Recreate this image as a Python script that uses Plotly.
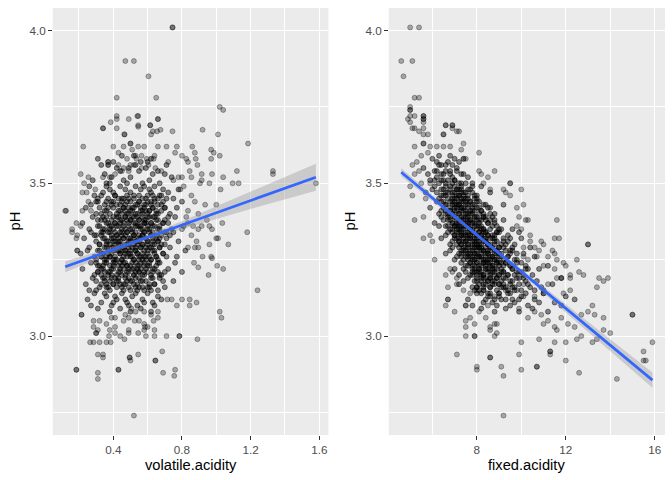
import plotly.graph_objects as go

# ---------------- panel 1: volatile.acidity vs pH ----------------
va_core = [
    0.31,0.42,0.50,0.56,0.61,0.66,0.38,0.45,0.70,0.53,
    0.35,0.59,0.48,0.62,0.28,0.74,0.44,0.57,0.40,0.67,
    0.52,0.33,0.63,0.46,0.71,0.55,0.39,0.60,0.49,0.36,
    0.26,0.34,0.41,0.47,0.52,0.58,0.63,0.69,0.75,0.31,
    0.38,0.44,0.50,0.55,0.61,0.66,0.72,0.29,0.43,0.56,
    0.64,0.48,0.36,0.59,0.68,0.53,0.40,0.46,0.62,0.78,
    0.24,0.30,0.35,0.39,0.42,0.45,0.49,0.51,0.54,0.57,
    0.60,0.63,0.65,0.68,0.73,0.77,0.33,0.37,0.44,0.47,
    0.50,0.53,0.56,0.58,0.61,0.64,0.27,0.40,0.52,0.59,
    0.66,0.70,0.43,0.48,0.55,0.62,0.36,0.46,0.57,0.80,
    0.22,0.28,0.32,0.35,0.38,0.41,0.43,0.46,0.48,0.50,
    0.52,0.54,0.56,0.58,0.60,0.62,0.64,0.67,0.70,0.74,
    0.31,0.34,0.37,0.40,0.42,0.45,0.47,0.49,0.51,0.53,
    0.55,0.57,0.59,0.61,0.63,0.65,0.69,0.76,0.26,0.39,
    0.44,0.50,0.55,0.60,0.66,0.36,0.47,0.58,0.72,0.81,
    0.23,0.27,0.30,0.33,0.36,0.39,0.41,0.43,0.45,0.47,
    0.49,0.51,0.53,0.55,0.57,0.59,0.61,0.63,0.65,0.68,
    0.71,0.75,0.32,0.35,0.38,0.40,0.42,0.44,0.46,0.48,
    0.50,0.52,0.54,0.56,0.58,0.60,0.62,0.64,0.67,0.70,
    0.29,0.37,0.43,0.49,0.55,0.60,0.66,0.78,0.34,0.45,
    0.52,0.57,0.63,0.41,0.73,
    0.21,0.26,0.29,0.32,0.35,0.37,0.39,0.41,0.43,0.45,
    0.47,0.49,0.51,0.53,0.55,0.57,0.59,0.61,0.63,0.66,
    0.69,0.73,0.77,0.30,0.34,0.36,0.38,0.40,0.42,0.44,
    0.46,0.48,0.50,0.52,0.54,0.56,0.58,0.60,0.62,0.64,
    0.67,0.71,0.25,0.33,0.44,0.50,0.56,0.62,0.40,0.47,
    0.53,0.59,0.65,0.82,0.36,
    0.22,0.27,0.31,0.34,0.37,0.39,0.41,0.43,0.45,0.47,
    0.49,0.51,0.53,0.55,0.57,0.59,0.61,0.63,0.65,0.68,
    0.72,0.76,0.29,0.33,0.36,0.38,0.40,0.42,0.44,0.46,
    0.48,0.50,0.52,0.54,0.56,0.58,0.60,0.62,0.64,0.67,
    0.70,0.35,0.44,0.52,0.58,0.66,0.31,0.48,0.55,0.80,
    0.24,0.28,0.32,0.35,0.38,0.40,0.43,0.45,0.48,0.50,
    0.52,0.55,0.57,0.59,0.62,0.64,0.67,0.70,0.75,0.30,
    0.34,0.37,0.42,0.46,0.49,0.53,0.56,0.60,0.63,0.66,
    0.26,0.39,0.44,0.51,0.58,0.61,0.36,0.47,0.54,0.69,
    0.25,0.29,0.33,0.36,0.39,0.42,0.45,0.48,0.51,0.54,
    0.57,0.60,0.63,0.66,0.31,0.38,0.44,0.50,0.56,0.62,
    0.27,0.35,0.41,0.47,0.53,0.58,0.64,0.40,0.49,0.68,
]
ph_core1 = [
    3.58,3.55,3.52,3.57,3.51,3.54,3.50,3.59,3.53,3.56,
    3.53,3.55,3.50,3.58,3.51,3.52,3.54,3.50,3.57,3.50,
    3.59,3.56,3.53,3.51,3.56,3.54,3.52,3.57,3.55,3.50,
    3.49,3.47,3.46,3.48,3.45,3.49,3.46,3.48,3.45,3.45,
    3.48,3.49,3.47,3.46,3.48,3.45,3.47,3.46,3.45,3.48,
    3.49,3.46,3.49,3.45,3.46,3.49,3.47,3.45,3.47,3.48,
    3.42,3.44,3.41,3.43,3.40,3.44,3.42,3.41,3.43,3.40,
    3.44,3.42,3.41,3.43,3.40,3.42,3.40,3.42,3.43,3.41,
    3.44,3.40,3.42,3.43,3.41,3.44,3.43,3.44,3.42,3.41,
    3.40,3.42,3.41,3.40,3.44,3.43,3.44,3.42,3.41,3.44,
    3.37,3.39,3.36,3.38,3.35,3.37,3.39,3.36,3.38,3.35,
    3.37,3.39,3.36,3.38,3.35,3.37,3.39,3.36,3.38,3.35,
    3.38,3.35,3.37,3.39,3.36,3.38,3.35,3.37,3.39,3.36,
    3.38,3.35,3.37,3.39,3.36,3.38,3.37,3.39,3.35,3.36,
    3.37,3.38,3.36,3.39,3.35,3.39,3.39,3.37,3.37,3.36,
    3.32,3.34,3.31,3.33,3.30,3.32,3.34,3.31,3.33,3.30,
    3.32,3.34,3.31,3.33,3.30,3.32,3.34,3.31,3.33,3.30,
    3.32,3.34,3.30,3.32,3.34,3.31,3.33,3.30,3.32,3.34,
    3.31,3.33,3.30,3.32,3.34,3.31,3.33,3.30,3.32,3.34,
    3.33,3.31,3.32,3.30,3.31,3.30,3.31,3.31,3.34,3.34,
    3.32,3.33,3.32,3.30,3.33,
    3.27,3.29,3.26,3.28,3.25,3.27,3.29,3.26,3.28,3.25,
    3.27,3.29,3.26,3.28,3.25,3.27,3.29,3.26,3.28,3.25,
    3.27,3.29,3.26,3.25,3.27,3.29,3.26,3.28,3.25,3.27,
    3.29,3.26,3.28,3.25,3.27,3.29,3.26,3.28,3.25,3.27,
    3.29,3.26,3.28,3.26,3.28,3.27,3.26,3.29,3.25,3.28,
    3.29,3.25,3.26,3.28,3.26,
    3.22,3.24,3.21,3.23,3.20,3.22,3.24,3.21,3.23,3.20,
    3.22,3.24,3.21,3.23,3.20,3.22,3.24,3.21,3.23,3.20,
    3.22,3.24,3.20,3.22,3.24,3.21,3.23,3.20,3.22,3.24,
    3.21,3.23,3.20,3.22,3.24,3.21,3.23,3.20,3.22,3.24,
    3.21,3.21,3.24,3.22,3.23,3.21,3.23,3.23,3.21,3.21,
    3.17,3.19,3.16,3.18,3.15,3.17,3.19,3.16,3.18,3.15,
    3.17,3.19,3.16,3.18,3.15,3.17,3.19,3.16,3.18,3.15,
    3.19,3.16,3.18,3.15,3.19,3.16,3.18,3.16,3.19,3.15,
    3.15,3.19,3.17,3.18,3.15,3.17,3.17,3.17,3.15,3.18,
    3.12,3.14,3.11,3.13,3.10,3.12,3.14,3.11,3.13,3.10,
    3.12,3.14,3.11,3.13,3.09,3.08,3.09,3.08,3.09,3.08,
    3.10,3.14,3.13,3.12,3.14,3.11,3.10,3.11,3.10,3.12,
]
# densest part of the cloud: one pH level per row, its volatile.acidity values
dense1_ph = [3.46, 3.45, 3.44, 3.43, 3.42, 3.41, 3.40, 3.39, 3.38, 3.37,
             3.36, 3.35, 3.34, 3.33, 3.32, 3.31, 3.30, 3.29, 3.28, 3.27,
             3.26, 3.25, 3.24, 3.23, 3.22, 3.21, 3.20, 3.19, 3.18, 3.17, 3.16]
dense1_va = [
    [0.33,0.41,0.52,0.60,0.67],
    [0.37,0.45,0.49,0.57,0.64,0.71],
    [0.31,0.39,0.48,0.55,0.62,0.69],
    [0.35,0.42,0.47,0.53,0.59,0.66],
    [0.32,0.40,0.46,0.51,0.58,0.63,0.70],
    [0.36,0.44,0.50,0.56,0.61,0.68],
    [0.30,0.38,0.45,0.49,0.54,0.60,0.65],
    [0.34,0.42,0.47,0.52,0.57,0.63,0.72],
    [0.33,0.39,0.44,0.50,0.55,0.59,0.66],
    [0.36,0.41,0.46,0.53,0.58,0.62,0.69],
    [0.31,0.38,0.43,0.49,0.54,0.60,0.64],
    [0.35,0.40,0.45,0.51,0.56,0.61,0.67],
    [0.33,0.37,0.44,0.48,0.53,0.58,0.63,0.71],
    [0.30,0.39,0.42,0.47,0.52,0.57,0.62,0.68],
    [0.34,0.40,0.46,0.50,0.55,0.59,0.65],
    [0.36,0.41,0.44,0.49,0.54,0.60,0.66],
    [0.32,0.38,0.43,0.48,0.52,0.57,0.63,0.70],
    [0.35,0.40,0.45,0.51,0.56,0.61,0.67],
    [0.31,0.37,0.42,0.47,0.53,0.58,0.64],
    [0.34,0.39,0.44,0.49,0.54,0.60,0.69],
    [0.33,0.38,0.46,0.50,0.55,0.59,0.65],
    [0.36,0.41,0.45,0.52,0.57,0.62],
    [0.30,0.35,0.40,0.47,0.53,0.58,0.66],
    [0.32,0.38,0.43,0.48,0.54,0.61],
    [0.34,0.40,0.46,0.51,0.56,0.63],
    [0.31,0.37,0.44,0.49,0.55,0.60],
    [0.33,0.39,0.45,0.52,0.58,0.67],
    [0.35,0.41,0.47,0.53,0.62],
    [0.30,0.38,0.43,0.50,0.57],
    [0.33,0.40,0.46,0.54,0.64],
    [0.36,0.42,0.49,0.55,0.61],
]
va_sparse = [
    0.745,0.745,0.47,0.52,0.605,0.42,0.65,1.02,1.04,0.385,
    0.42,0.42,0.34,0.34,0.42,0.49,0.54,0.545,0.545,0.545,
    0.465,0.465,0.615,0.615,0.66,0.66,0.63,0.655,0.675,0.62,
    0.745,0.92,1.01,1.185,0.225,0.40,0.46,0.50,0.50,0.58,
    0.66,0.71,0.77,0.86,0.125,0.12,0.21,0.255,0.23,0.22,
    0.245,0.185,0.16,0.16,0.19,0.21,0.19,0.19,0.185,0.255,
    0.27,0.22,0.295,0.34,0.43,0.51,0.53,0.545,0.64,0.635,
    0.595,0.565,0.535,0.875,0.88,0.80,0.825,0.76,0.72,0.37,
    0.37,0.37,0.37,0.48,0.50,0.52,0.46,0.43,0.41,0.38,
    0.45,0.49,0.565,0.605,0.645,0.68,0.845,0.855,0.89,0.835,
    0.915,0.975,0.80,0.75,0.78,0.81,0.79,0.905,0.915,0.855,
    0.875,0.835,0.895,0.97,0.985,1.02,0.97,1.12,1.33,1.33,
    1.04,1.095,1.13,0.96,1.025,1.58,0.935,1.00,1.035,1.18,
    0.96,0.975,0.915,1.00,1.01,1.07,0.96,0.875,0.895,0.835,
    0.92,0.97,0.975,1.005,1.04,0.955,0.895,0.87,0.945,0.895,
    0.865,0.855,0.885,0.835,0.825,0.80,0.215,0.215,1.02,1.03,
    1.24,0.885,0.845,0.845,0.77,0.80,0.715,0.74,0.66,0.66,
    0.64,0.64,0.59,0.71,0.785,0.785,0.89,0.545,0.465,0.375,
    0.265,0.285,0.32,0.36,0.385,0.31,0.34,0.34,0.495,0.495,
    0.50,0.545,0.685,0.645,0.645,0.76,0.69,0.755,0.185,0.185,
    0.43,0.43,0.31,0.31,0.52,0.285,0.285,0.30,0.30,0.32,
    0.31,0.36,0.38,0.41,0.41,0.44,0.46,0.49,0.49,0.49,
    0.525,0.55,0.58,0.60,0.58,0.635,0.585,0.62,0.58,0.53,
    0.505,0.47,0.41,0.39,
]
ph_sparse1 = [
    4.01,4.01,3.90,3.90,3.85,3.78,3.78,3.75,3.74,3.70,
    3.72,3.71,3.68,3.68,3.68,3.71,3.72,3.72,3.69,3.685,
    3.66,3.66,3.69,3.69,3.71,3.71,3.67,3.67,3.675,3.66,
    3.67,3.675,3.66,3.63,3.62,3.62,3.62,3.63,3.63,3.62,
    3.62,3.62,3.62,3.62,3.41,3.41,3.53,3.52,3.50,3.47,
    3.47,3.37,3.35,3.34,3.33,3.36,3.28,3.28,3.32,3.44,
    3.41,3.41,3.48,3.52,3.60,3.61,3.59,3.62,3.59,3.58,
    3.58,3.59,3.58,3.60,3.58,3.59,3.58,3.60,3.57,3.57,
    3.57,3.56,3.56,3.58,3.56,3.56,3.55,3.56,3.53,3.52,
    3.54,3.54,3.55,3.56,3.55,3.54,3.54,3.52,3.56,3.57,
    3.53,3.53,3.52,3.51,3.52,3.49,3.48,3.50,3.51,3.46,
    3.44,3.41,3.40,3.61,3.60,3.59,3.58,3.54,3.54,3.53,
    3.52,3.50,3.50,3.50,3.48,3.50,3.43,3.43,3.37,3.34,
    3.36,3.35,3.36,3.32,3.32,3.30,3.30,3.29,3.29,3.29,
    3.26,3.26,3.255,3.23,3.22,3.20,3.225,3.24,3.38,3.35,
    3.36,3.33,3.31,3.37,3.39,3.35,3.07,3.07,3.08,3.06,
    3.15,3.11,3.12,3.10,3.10,3.12,3.12,3.12,3.08,3.06,
    3.02,3.00,3.00,3.00,3.00,3.00,2.99,3.01,2.99,3.00,
    2.98,2.98,2.98,2.98,2.98,2.94,2.94,2.93,2.93,2.93,
    2.92,2.94,2.95,2.92,2.92,2.89,2.88,2.87,2.89,2.89,
    2.89,2.89,2.88,2.86,2.74,3.05,3.03,3.01,3.01,3.05,
    3.02,3.04,3.02,3.03,3.01,3.00,3.05,3.06,3.02,3.01,
    3.05,3.05,3.04,3.03,3.02,3.05,3.03,3.07,3.08,3.08,
    3.09,3.07,3.06,3.06,
]
# linear fit and 95% band
fit1_x = [0.12, 0.30, 0.53, 0.80, 1.00, 1.20, 1.40, 1.58]
fit1_y = [3.227, 3.263, 3.309, 3.363, 3.404, 3.444, 3.484, 3.520]
fit1_lo = [3.209, 3.251, 3.302, 3.350, 3.383, 3.416, 3.448, 3.476]
fit1_hi = [3.245, 3.275, 3.316, 3.376, 3.425, 3.472, 3.520, 3.564]

# ---------------- panel 2: fixed.acidity vs pH ----------------
fa_core = [
    5.6,6.0,6.2,6.4,6.6,6.8,7.0,7.2,7.4,7.8,
    5.9,6.1,6.3,6.5,6.7,6.9,7.1,7.3,6.6,6.2,
    7.6,6.8,5.8,7.0,6.4,
    5.7,6.1,6.3,6.5,6.6,6.8,6.9,7.0,7.1,7.2,
    7.3,7.4,7.5,7.7,7.9,8.2,8.6,6.4,6.7,7.0,
    7.2,7.4,7.6,6.0,6.9,7.3,8.0,6.6,7.1,7.8,
    5.9,6.2,6.4,6.6,6.7,6.8,6.9,7.0,7.1,7.2,
    7.3,7.4,7.5,7.6,7.7,7.8,8.0,8.2,8.4,8.8,
    6.5,6.8,7.0,7.2,7.4,7.6,7.8,8.1,9.2,6.3,
    7.1,7.3,7.5,7.9,8.3,6.9,7.7,8.6,7.2,6.6,
    6.1,6.4,6.6,6.7,6.8,6.9,7.0,7.1,7.2,7.3,
    7.4,7.5,7.6,7.7,7.8,7.9,8.0,8.1,8.2,8.3,
    8.5,8.7,8.9,9.2,9.6,6.5,6.8,7.0,7.2,7.4,
    7.6,7.8,8.0,8.2,8.4,8.6,7.1,7.3,7.5,7.7,
    7.9,8.1,6.9,7.2,7.6,8.8,6.3,9.0,7.4,8.3,
    6.4,6.7,6.9,7.0,7.1,7.2,7.3,7.4,7.5,7.6,
    7.7,7.8,7.9,8.0,8.1,8.2,8.3,8.4,8.5,8.6,
    8.8,9.0,9.2,9.4,9.7,10.0,6.8,7.1,7.3,7.5,
    7.7,7.9,8.1,8.3,8.5,8.7,8.9,7.2,7.4,7.6,
    7.8,8.0,8.2,8.4,8.6,9.1,9.5,6.6,7.0,7.6,
    8.0,8.8,7.3,8.4,9.9,
    6.6,6.9,7.1,7.3,7.4,7.5,7.6,7.7,7.8,7.9,
    8.0,8.1,8.2,8.3,8.4,8.5,8.6,8.7,8.8,8.9,
    9.0,9.2,9.4,9.6,9.8,10.1,10.4,7.0,7.2,7.4,
    7.6,7.8,8.0,8.2,8.4,8.6,8.8,9.0,9.3,7.5,
    7.7,7.9,8.1,8.3,8.5,8.9,9.1,6.8,7.3,8.0,
    8.6,9.5,10.6,7.9,8.2,
    7.0,7.3,7.5,7.6,7.8,7.9,8.0,8.1,8.2,8.3,
    8.4,8.5,8.6,8.7,8.8,8.9,9.0,9.1,9.2,9.4,
    9.6,9.8,10.0,10.2,10.5,10.8,7.2,7.7,8.0,8.2,
    8.4,8.6,8.8,9.0,9.3,9.5,9.9,7.4,7.9,8.3,
    8.7,9.1,9.7,7.8,8.5,8.9,10.3,8.1,9.2,11.2,
    7.2,7.6,7.8,8.0,8.1,8.3,8.4,8.6,8.7,8.9,
    9.0,9.2,9.3,9.5,9.7,9.9,10.1,10.4,10.7,11.0,
    11.4,7.9,8.2,8.5,8.8,9.1,9.4,9.8,10.2,10.6,
    7.4,8.0,8.6,9.2,9.6,10.0,11.8,8.3,8.9,10.9,
    7.6,8.0,8.3,8.6,8.9,9.1,9.4,9.7,10.0,10.3,
    10.6,11.0,11.5,12.0,8.2,8.8,9.3,9.9,10.5,11.2,
    7.8,8.5,9.0,9.6,10.2,10.8,11.8,8.7,9.5,12.4,
]
ph_core2 = [
    3.55,3.58,3.52,3.56,3.50,3.54,3.51,3.57,3.53,3.50,
    3.51,3.54,3.59,3.53,3.57,3.52,3.55,3.50,3.56,3.57,
    3.52,3.59,3.53,3.58,3.51,
    3.47,3.49,3.45,3.48,3.46,3.49,3.47,3.45,3.48,3.46,
    3.49,3.47,3.45,3.48,3.46,3.49,3.47,3.46,3.47,3.49,
    3.48,3.45,3.46,3.48,3.45,3.47,3.45,3.49,3.46,3.49,
    3.42,3.44,3.41,3.43,3.40,3.42,3.44,3.41,3.43,3.40,
    3.42,3.44,3.41,3.43,3.40,3.42,3.44,3.41,3.43,3.40,
    3.44,3.41,3.43,3.44,3.42,3.40,3.41,3.42,3.43,3.40,
    3.42,3.41,3.44,3.43,3.40,3.40,3.44,3.42,3.43,3.41,
    3.37,3.39,3.36,3.38,3.35,3.37,3.39,3.36,3.38,3.35,
    3.37,3.39,3.36,3.38,3.35,3.37,3.39,3.36,3.38,3.35,
    3.37,3.39,3.36,3.38,3.35,3.38,3.39,3.36,3.35,3.39,
    3.38,3.37,3.36,3.35,3.39,3.38,3.37,3.38,3.36,3.35,
    3.39,3.38,3.35,3.36,3.37,3.37,3.36,3.35,3.36,3.39,
    3.32,3.34,3.31,3.33,3.30,3.32,3.34,3.31,3.33,3.30,
    3.32,3.34,3.31,3.33,3.30,3.32,3.34,3.31,3.33,3.30,
    3.32,3.34,3.31,3.33,3.30,3.32,3.30,3.34,3.30,3.31,
    3.33,3.32,3.34,3.31,3.30,3.33,3.34,3.31,3.33,3.34,
    3.30,3.31,3.33,3.34,3.32,3.30,3.32,3.33,3.32,3.32,
    3.30,3.31,3.33,3.32,3.34,
    3.27,3.29,3.26,3.28,3.25,3.27,3.29,3.26,3.28,3.25,
    3.27,3.29,3.26,3.28,3.25,3.27,3.29,3.26,3.28,3.25,
    3.27,3.29,3.26,3.28,3.25,3.27,3.29,3.25,3.27,3.29,
    3.26,3.25,3.29,3.28,3.27,3.26,3.25,3.29,3.28,3.28,
    3.27,3.29,3.26,3.25,3.28,3.27,3.26,3.28,3.26,3.26,
    3.25,3.27,3.26,3.27,3.29,
    3.22,3.24,3.21,3.23,3.20,3.22,3.24,3.21,3.23,3.20,
    3.22,3.24,3.21,3.23,3.20,3.22,3.24,3.21,3.23,3.20,
    3.22,3.24,3.21,3.23,3.20,3.22,3.20,3.24,3.21,3.20,
    3.24,3.23,3.22,3.20,3.24,3.23,3.21,3.22,3.23,3.24,
    3.21,3.24,3.20,3.21,3.22,3.24,3.22,3.22,3.21,3.23,
    3.17,3.19,3.16,3.18,3.15,3.17,3.19,3.16,3.18,3.15,
    3.17,3.19,3.16,3.18,3.15,3.17,3.19,3.16,3.18,3.15,
    3.17,3.15,3.19,3.18,3.17,3.16,3.15,3.19,3.18,3.15,
    3.18,3.16,3.19,3.17,3.16,3.15,3.19,3.15,3.19,3.16,
    3.12,3.14,3.11,3.13,3.10,3.12,3.14,3.11,3.13,3.10,
    3.12,3.14,3.11,3.13,3.09,3.08,3.09,3.08,3.09,3.08,
    3.10,3.14,3.13,3.12,3.14,3.11,3.10,3.11,3.10,3.12,
]
# densest part of the cloud: one pH level per row, its fixed.acidity values
dense2_ph = [3.56, 3.54, 3.53, 3.51, 3.50, 3.48, 3.47, 3.46, 3.45, 3.44,
             3.43, 3.42, 3.41, 3.40, 3.39, 3.38, 3.37, 3.36, 3.35, 3.34,
             3.33, 3.32, 3.31, 3.30, 3.29, 3.28, 3.27, 3.26, 3.25, 3.24,
             3.23, 3.22, 3.21, 3.20, 3.19, 3.18, 3.17, 3.16, 3.14, 3.12]
dense2_fa = [
    [6.3,6.9],
    [6.2,6.6,7.1],
    [6.4,6.8,7.3],
    [6.1,6.5,6.7,7.0],
    [6.3,6.9,7.2,7.5],
    [6.4,6.8,7.1,7.3,7.6],
    [6.2,6.6,7.0,7.5,7.8],
    [6.5,6.9,7.2,7.4,8.0],
    [6.7,7.1,7.3,7.6,7.9],
    [6.4,6.8,7.0,7.3,7.7,8.1],
    [6.6,6.9,7.2,7.5,7.8,8.3],
    [6.5,7.0,7.3,7.6,8.0,8.5],
    [6.8,7.1,7.4,7.7,7.9,8.2],
    [6.6,6.9,7.2,7.5,7.8,8.1,8.6],
    [6.7,7.0,7.3,7.6,7.9,8.3],
    [6.8,7.1,7.4,7.7,8.0,8.4,8.8],
    [6.9,7.2,7.5,7.8,8.1,8.5],
    [6.7,7.0,7.3,7.6,7.9,8.2,8.7],
    [7.1,7.4,7.7,8.0,8.3,8.6,9.1],
    [6.9,7.2,7.5,7.8,8.1,8.4,8.9],
    [7.0,7.3,7.6,7.9,8.2,8.5,8.8],
    [7.1,7.4,7.7,8.0,8.3,8.7,9.2],
    [7.2,7.5,7.8,8.1,8.4,8.9,9.4],
    [7.3,7.6,7.9,8.2,8.5,8.8,9.3],
    [7.2,7.5,7.8,8.1,8.4,8.7,9.0,9.6],
    [7.4,7.7,8.0,8.3,8.6,8.9,9.5],
    [7.3,7.6,7.9,8.2,8.5,8.8,9.1,9.8],
    [7.5,7.8,8.1,8.4,8.7,9.0,9.4],
    [7.6,7.9,8.2,8.5,8.8,9.2,9.7],
    [7.7,8.0,8.3,8.6,8.9,9.3,10.0],
    [7.5,7.8,8.1,8.4,8.7,9.0,9.5],
    [7.8,8.1,8.4,8.7,9.1,9.6,10.2],
    [7.9,8.2,8.5,8.8,9.2,9.8],
    [7.7,8.0,8.3,8.6,9.0,9.4,10.1],
    [8.0,8.3,8.6,8.9,9.3,9.9],
    [7.9,8.2,8.5,8.8,9.1,9.6],
    [8.1,8.4,8.7,9.0,9.5,10.3],
    [8.0,8.3,8.6,9.2,9.7],
    [8.2,8.6,9.0,9.5],
    [8.4,8.8,9.3,9.9],
]
fa_sparse = [
    5.0,5.4,4.6,5.1,4.7,5.2,5.4,5.0,5.0,5.0,
    4.9,5.0,5.2,5.0,5.6,5.6,5.6,5.6,5.6,5.1,
    5.2,5.6,5.4,5.6,5.8,6.6,6.6,6.9,6.9,6.9,
    7.1,7.2,6.5,6.5,7.4,5.2,5.6,5.6,5.9,6.2,
    6.5,6.8,7.3,8.1,5.1,5.3,5.5,5.8,5.4,5.2,
    5.5,5.0,5.1,5.7,5.9,5.2,5.6,5.6,5.9,6.0,
    6.1,7.4,7.4,7.5,8.1,8.2,8.8,8.5,8.3,8.6,
    9.5,9.5,10.0,9.2,9.3,9.5,10.1,9.8,9.9,10.2,
    10.3,9.8,10.0,11.6,11.5,11.7,13.0,13.0,10.9,11.0,
    10.8,10.4,10.4,10.1,10.6,10.1,10.3,10.7,11.4,11.5,
    11.6,11.2,11.0,11.5,11.9,12.0,12.5,12.6,12.8,12.2,
    12.2,11.8,11.6,13.5,13.9,7.1,6.8,6.6,6.9,6.7,
    7.1,6.7,6.7,6.6,7.0,7.5,7.5,7.5,7.5,7.5,
    7.7,7.9,7.9,7.9,8.1,8.4,8.5,8.8,8.9,8.6,
    8.6,8.8,8.9,8.6,8.6,7.1,8.0,8.0,9.1,9.2,
    9.2,10.0,9.9,10.0,10.7,10.7,10.8,11.3,11.3,11.3,
    11.5,12.0,12.0,12.6,12.5,12.7,13.2,13.4,14.3,15.0,
    15.0,15.9,15.5,15.5,15.6,14.0,13.7,13.7,13.3,13.2,
    10.1,9.9,10.3,10.6,10.9,11.2,11.6,11.0,11.5,11.8,
    12.1,12.4,12.7,13.0,13.4,13.7,7.4,7.7,8.0,8.3,
    8.5,8.8,9.0,9.3,9.8,10.1,10.6,11.0,11.2,11.9,
    12.2,
]
ph_sparse2 = [
    4.01,4.01,3.90,3.90,3.85,3.78,3.78,3.75,3.74,3.74,
    3.71,3.72,3.72,3.70,3.72,3.72,3.71,3.71,3.70,3.68,
    3.68,3.68,3.67,3.66,3.66,3.69,3.69,3.69,3.69,3.68,
    3.67,3.67,3.66,3.66,3.63,3.62,3.63,3.63,3.62,3.62,
    3.62,3.62,3.61,3.60,3.56,3.57,3.59,3.60,3.54,3.53,
    3.50,3.49,3.46,3.45,3.50,3.38,3.39,3.32,3.33,3.31,
    3.25,3.58,3.58,3.58,3.54,3.53,3.54,3.52,3.50,3.48,
    3.50,3.50,3.48,3.48,3.47,3.46,3.43,3.42,3.39,3.38,
    3.38,3.36,3.35,3.38,3.32,3.32,3.30,3.30,3.31,3.30,
    3.28,3.33,3.31,3.29,3.29,3.26,3.25,3.26,3.28,3.27,
    3.25,3.26,3.23,3.22,3.24,3.23,3.25,3.21,3.20,3.19,
    3.20,3.19,3.19,3.19,3.19,3.19,3.22,3.20,3.21,3.16,
    3.17,3.12,3.12,3.10,3.08,3.10,3.10,3.05,3.03,3.00,
    3.06,3.04,3.00,3.00,3.08,3.06,3.10,3.04,3.04,3.03,
    3.02,3.00,3.01,2.93,2.93,2.94,2.90,2.89,2.90,2.87,
    2.74,2.98,2.94,2.89,2.90,2.90,2.99,2.94,2.95,2.95,
    2.98,2.98,2.92,2.88,2.99,3.00,2.98,2.99,2.86,3.07,
    3.07,2.98,2.95,2.92,2.92,3.01,3.02,3.06,3.07,3.10,
    3.13,3.09,3.06,3.08,3.07,3.05,3.02,3.04,3.03,3.06,
    3.04,3.03,3.07,3.08,3.16,3.18,3.15,3.14,3.15,3.15,
    3.13,3.13,3.14,3.15,3.15,3.17,3.13,3.14,3.17,3.14,
    3.15,
]
fit2_x = [4.6, 6.0, 8.32, 10.0, 12.0, 14.0, 15.9]
fit2_y = [3.536, 3.452, 3.312, 3.211, 3.091, 2.970, 2.856]
fit2_lo = [3.523, 3.443, 3.306, 3.203, 3.078, 2.951, 2.831]
fit2_hi = [3.549, 3.461, 3.318, 3.219, 3.104, 2.989, 2.881]

# ---------------- axis labels / ticks ----------------
x1_ticks = [0.4, 0.8, 1.2, 1.6]
x1_minor = [0.2, 0.6, 1.0, 1.4]
x2_ticks = [8, 12, 16]
x2_minor = [6, 10, 14]
y_ticks = [3.0, 3.5, 4.0]
y_minor = [2.75, 3.25, 3.75]
x1_title = "volatile.acidity"
x2_title = "fixed.acidity"
y_title = "pH"

FONT = "Liberation Sans, Arial, sans-serif"
PT_COL = "rgba(0,0,0,0.3)"
CORE_COL = "rgba(0,0,0,0.45)"


def rows_to_xy(levels, rows):
    xs, ys = [], []
    for lev, row in zip(levels, rows):
        xs.extend(row)
        ys.extend([lev] * len(row))
    return xs, ys


fig = go.Figure()


def add_panel(sets, fx, fy, flo, fhi, xa, ya):
    for xs, ys, col in sets:
        n = min(len(xs), len(ys))
        fig.add_trace(go.Scatter(
            x=xs[:n], y=ys[:n], mode="markers", xaxis=xa, yaxis=ya,
            marker=dict(size=5, color=col, line=dict(color=col, width=1)),
            hoverinfo="skip", showlegend=False))
    fig.add_trace(go.Scatter(
        x=fx + fx[::-1], y=fhi + flo[::-1], mode="lines", fill="toself",
        fillcolor="rgba(153,153,153,0.4)", line=dict(width=0),
        xaxis=xa, yaxis=ya, hoverinfo="skip", showlegend=False))
    fig.add_trace(go.Scatter(
        x=fx, y=fy, mode="lines", line=dict(color="#3366FF", width=2.7),
        xaxis=xa, yaxis=ya, hoverinfo="skip", showlegend=False))


d1x, d1y = rows_to_xy(dense1_ph, dense1_va)
d2x, d2y = rows_to_xy(dense2_ph, dense2_fa)
add_panel([(va_core, ph_core1, CORE_COL), (d1x, d1y, CORE_COL),
           (va_sparse, ph_sparse1, PT_COL)],
          fit1_x, fit1_y, fit1_lo, fit1_hi, "x", "y")
add_panel([(fa_core, ph_core2, CORE_COL), (d2x, d2y, CORE_COL),
           (fa_sparse, ph_sparse2, PT_COL)],
          fit2_x, fit2_y, fit2_lo, fit2_hi, "x2", "y2")

tickfont = dict(family=FONT, size=11.7, color="#4D4D4D")


def axis(rng, ticks, minor, domain, anchor, fmt):
    return dict(
        range=rng, domain=domain, anchor=anchor,
        tickmode="array", tickvals=ticks, ticktext=[fmt(t) for t in ticks],
        showgrid=True, gridcolor="white", gridwidth=1.1,
        minor=dict(tickvals=minor, showgrid=True, gridcolor="white",
                   gridwidth=0.55, ticks=""),
        ticks="outside", ticklen=3.6, tickwidth=1.07, tickcolor="#333333",
        tickfont=tickfont, zeroline=False, showline=False, automargin=False,
    )


ydom = [1 - 435 / 480, 1 - 8 / 480]
fig.update_layout(
    width=672, height=480,
    margin=dict(l=0, r=0, t=0, b=0),
    paper_bgcolor="white", plot_bgcolor="#EBEBEB",
    font=dict(family=FONT),
    xaxis=axis([0.047, 1.653], x1_ticks, x1_minor,
               [52.7 / 672, 328.4 / 672], "y", lambda t: f"{t:.1f}"),
    xaxis2=axis([4.035, 16.465], x2_ticks, x2_minor,
                [388.7 / 672, 665 / 672], "y2", lambda t: f"{t:g}"),
    yaxis=axis([2.6765, 4.0735], y_ticks, y_minor, ydom, "x",
               lambda t: f"{t:.1f}"),
    yaxis2=axis([2.6765, 4.0735], y_ticks, y_minor, ydom, "x2",
                lambda t: f"{t:.1f}"),
)

title_font = dict(family=FONT, size=14.7, color="black")
ann = [
    dict(text=x1_title, x=(52.7 + 328.4) / 2 / 672, y=1 - 465 / 480),
    dict(text=x2_title, x=(388.7 + 665) / 2 / 672, y=1 - 465 / 480),
    dict(text=y_title, x=14 / 672, y=1 - 221.5 / 480, textangle=-90),
    dict(text=y_title, x=349 / 672, y=1 - 221.5 / 480, textangle=-90),
]
for a in ann:
    fig.add_annotation(xref="paper", yref="paper", showarrow=False,
                       xanchor="center", yanchor="middle", font=title_font, **a)

fig.write_html("out.html", config={"displayModeBar": False},
               post_script="document.body.style.margin='0';")
